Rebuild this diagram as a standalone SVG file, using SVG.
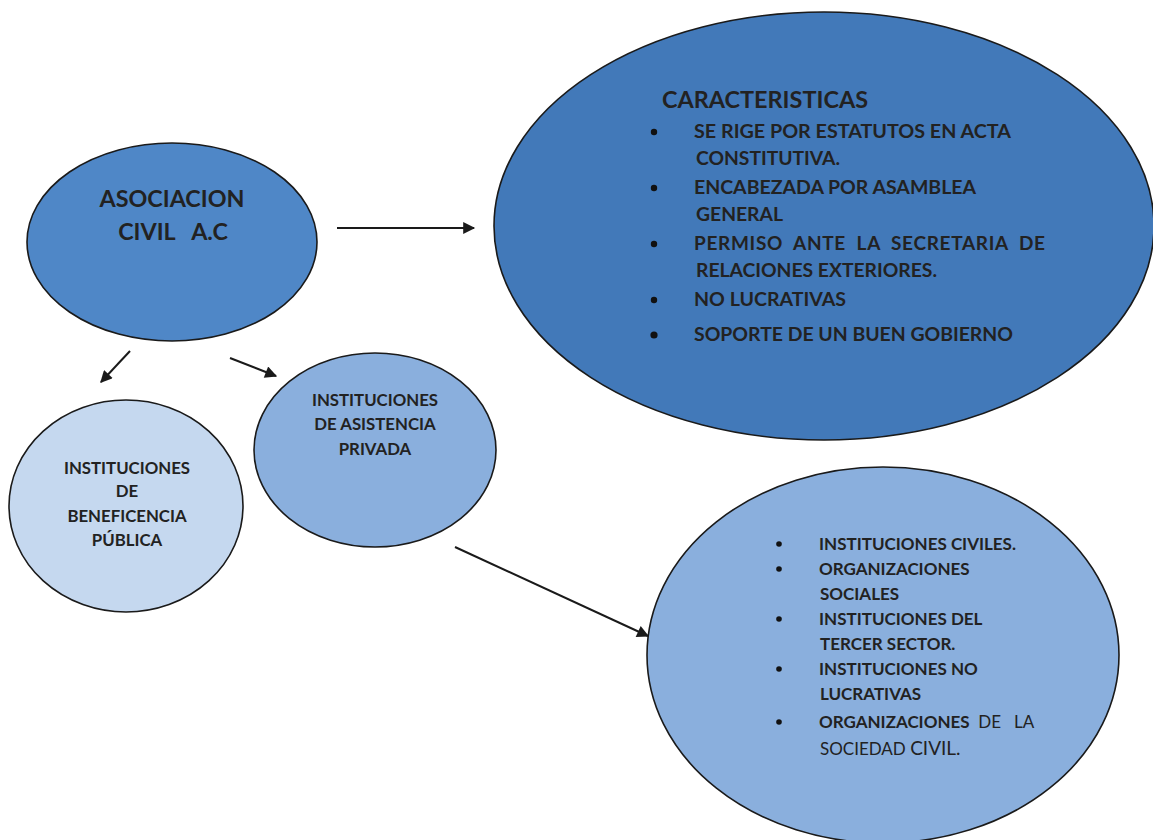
<svg xmlns="http://www.w3.org/2000/svg" width="1153" height="840" viewBox="0 0 1153 840">
<style>
.n{stroke:#1a1a1a;stroke-width:1.6}
text{font-family:Lato,"Open Sans","Liberation Sans",sans-serif;font-weight:bold;fill:#222}
.c{text-anchor:middle}
.r{font-weight:normal}
.con line{stroke:#1a1a1a;stroke-width:2;marker-end:url(#ah)}
</style>
<defs>
<marker id="ah" viewBox="0 0 10 10" refX="9" refY="5" markerWidth="16" markerHeight="12" markerUnits="userSpaceOnUse" orient="auto"><path d="M0,0L10,5L0,10z" fill="#1a1a1a"/></marker>
</defs>
<rect width="1153" height="840" fill="#fff"/>
<g id="caracteristicas">
<ellipse class="n" cx="824" cy="226" rx="330" ry="214" fill="#4279b9"/>
<text x="662" y="108" font-size="23.5" textLength="206" lengthAdjust="spacingAndGlyphs">CARACTERISTICAS</text>
<g font-size="19" lengthAdjust="spacingAndGlyphs">
<circle cx="654" cy="132" r="3.2" fill="#111"/>
<text x="694" y="138" textLength="317" lengthAdjust="spacingAndGlyphs">SE RIGE POR ESTATUTOS EN ACTA</text>
<text x="696" y="165" textLength="144" lengthAdjust="spacingAndGlyphs">CONSTITUTIVA.</text>
<circle cx="654" cy="188" r="3.2" fill="#111"/>
<text x="694" y="194" textLength="282" lengthAdjust="spacingAndGlyphs">ENCABEZADA POR ASAMBLEA</text>
<text x="696" y="221" textLength="87" lengthAdjust="spacingAndGlyphs">GENERAL</text>
<circle cx="654" cy="244" r="3.2" fill="#111"/>
<text x="694" y="250" textLength="351" lengthAdjust="spacing" xml:space="preserve">PERMISO  ANTE  LA  SECRETARIA  DE</text>
<text x="696" y="277" textLength="241" lengthAdjust="spacingAndGlyphs">RELACIONES EXTERIORES.</text>
<circle cx="654" cy="300" r="3.2" fill="#111"/>
<text x="694" y="306" textLength="152" lengthAdjust="spacingAndGlyphs">NO LUCRATIVAS</text>
<circle cx="654" cy="335" r="3.6" fill="#111"/>
<text x="694" y="341" textLength="319" lengthAdjust="spacingAndGlyphs">SOPORTE DE UN BUEN GOBIERNO</text>
</g>
</g>
<g id="asociacion">
<ellipse class="n" cx="172" cy="242" rx="145" ry="99" fill="#4f87c7"/>
<text class="c" x="172" y="207" font-size="23.3">ASOCIACION</text>
<text class="c" x="173" y="240" font-size="23.3" xml:space="preserve">CIVIL   A.C</text>
</g>
<g id="beneficencia">
<ellipse class="n" cx="126" cy="506" rx="117" ry="106" fill="#c5d8ef"/>
<g font-size="16.8">
<text class="c" x="127" y="474">INSTITUCIONES</text>
<text class="c" x="127" y="497">DE</text>
<text class="c" x="127" y="522">BENEFICENCIA</text>
<text class="c" x="127" y="546">PÚBLICA</text>
</g>
</g>
<g id="asistencia">
<ellipse class="n" cx="375" cy="450" rx="121" ry="97" fill="#8aafdd"/>
<g font-size="16.8">
<text class="c" x="375" y="406">INSTITUCIONES</text>
<text class="c" x="375" y="430">DE ASISTENCIA</text>
<text class="c" x="375" y="455">PRIVADA</text>
</g>
</g>
<g id="sociedad">
<ellipse class="n" cx="883" cy="655" rx="236" ry="188" fill="#8aafdd"/>
<g font-size="17">
<circle cx="779" cy="544" r="2.8" fill="#111"/>
<text x="819" y="550">INSTITUCIONES CIVILES.</text>
<circle cx="779" cy="569" r="2.8" fill="#111"/>
<text x="819" y="575">ORGANIZACIONES</text>
<text x="820" y="600">SOCIALES</text>
<circle cx="779" cy="619" r="2.8" fill="#111"/>
<text x="819" y="625">INSTITUCIONES DEL</text>
<text x="820" y="650">TERCER SECTOR.</text>
<circle cx="779" cy="669" r="2.8" fill="#111"/>
<text x="819" y="675">INSTITUCIONES NO</text>
<text x="820" y="700">LUCRATIVAS</text>
<circle cx="779" cy="722" r="2.8" fill="#111"/>
<text x="819" y="728" xml:space="preserve">ORGANIZACIONES<tspan class="r">  DE   LA</tspan></text>
<text x="820" y="755" class="r">SOCIEDAD <tspan font-size="19">CIVIL.</tspan></text>
</g>
</g>
<g id="connectors" class="con">
<line x1="337" y1="228" x2="474" y2="228"/>
<line x1="130" y1="351" x2="101" y2="382"/>
<line x1="230" y1="358" x2="276" y2="376"/>
<line x1="455" y1="547" x2="648" y2="636"/>
</g>
</svg>
